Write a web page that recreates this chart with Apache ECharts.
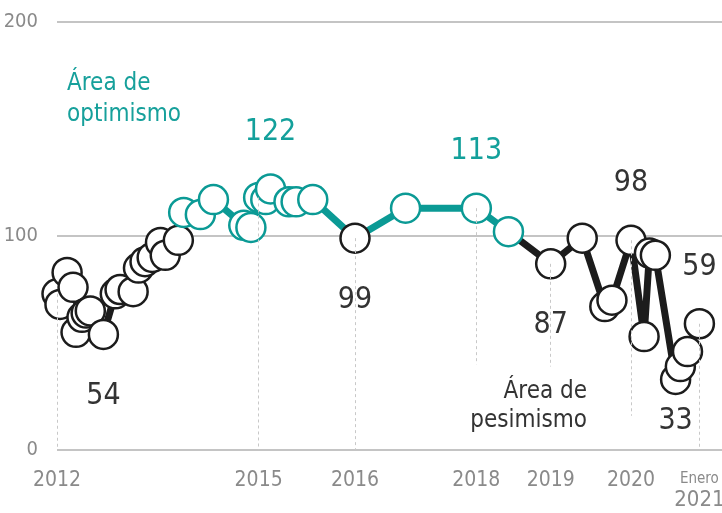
<!DOCTYPE html>
<html>
<head>
<meta charset="utf-8">
<script src="https://cdn.jsdelivr.net/npm/echarts@6/dist/echarts.min.js"></script>
<style>
  html, body { margin: 0; padding: 0; background: #fff; }
  #chart { width: 722px; height: 513px; }
</style>
</head>
<body>
<div id="chart"></div>
<script>
// meses desde enero 2012
var meses = [0, 0.5, 1.7, 2.7, 3.2, 4.2, 4.9, 5.6, 7.8, 9.8, 10.6, 12.8, 13.7, 14.8, 16.0,
  17.4, 18.2, 20.4, 21.3, 24.1, 26.3, 31.4, 32.6, 33.9, 35.1, 35.9, 39.0, 40.2, 43.0, 50.1,
  58.6, 70.5, 75.9, 83.0, 88.3, 92.1, 93.3, 96.5, 98.7, 99.6, 100.6, 104.0, 104.8, 106.0, 108.0];
var valores = [73, 68, 83, 76, 55, 62, 64, 65, 54, 73, 75, 74, 85, 88, 90,
  97, 91, 98, 111, 110, 117, 105, 104, 118, 117, 122, 116, 116, 117, 99,
  113, 113, 102, 87, 99, 67, 70, 98, 53, 92, 91, 33, 39, 46, 59];

var tickMeses = [0, 33.9, 50.1, 70.5, 83.0, 96.5, 108.0];
var tickLabels = ["2012", "2015", "2016", "2018", "2019", "2020", "Enero 2021"];
var dropFin = [0, 0, 0, 40, 39, 16, 0];

// puntos con etiqueta de valor
var etiquetados = [8, 25, 29, 31, 33, 37, 41, 44];
var etiquetaArriba = [25, 31, 37, 44];
var umbral = 100;

var teal = "#0b9a95";
var negro = "#1c1c1c";
var fuente = "'DejaVu Sans Condensed', 'Liberation Sans Narrow', sans-serif";

var myChart = echarts.init(document.getElementById("chart"));

var lineData = meses.map(function (m, i) { return [m, valores[i]]; });

var puntos = meses.map(function (m, i) {
  var v = valores[i];
  var alto = v > umbral;
  var item = {
    value: [m, v],
    itemStyle: { color: "#fff", borderColor: alto ? teal : negro, borderWidth: 2.5, opacity: 1 }
  };
  if (etiquetados.indexOf(i) >= 0) {
    var arriba = etiquetaArriba.indexOf(i) >= 0;
    item.label = {
      show: true,
      position: arriba ? "top" : "bottom",
      distance: i === 41 ? 9 : (arriba ? 24 : 29),
      formatter: String(v),
      color: alto ? "#13a09b" : "#333",
      fontFamily: fuente,
      fontSize: 30,
      backgroundColor: "#fff",
      padding: [2, 2]
    };
  }
  return item;
});

var drops = tickMeses.map(function (m, i) {
  var v = valores[meses.indexOf(m)];
  return [{ coord: [m, v] }, { coord: [m, dropFin[i]] }];
});

var option = {
  animation: false,
  grid: { left: 57, right: 0, top: 22, bottom: 63, outerBoundsMode: "none", containLabel: false },
  xAxis: {
    type: "value",
    min: 0,
    max: 111.8,
    axisLine: { show: false },
    axisTick: { show: false },
    splitLine: { show: false },
    axisLabel: {
      customValues: tickMeses,
      margin: 20,
      color: "#8a8a8a",
      fontFamily: fuente,
      fontSize: 21,
      formatter: function (v) {
        var t = tickLabels[tickMeses.indexOf(v)] || "";
        var p = t.split(" ");
        if (p.length > 1) return "{s|" + p[0] + "}\n{y|" + p[1] + "}";
        return t;
      },
      rich: {
        s: { fontSize: 15, lineHeight: 18, color: "#8a8a8a", fontFamily: fuente },
        y: { fontSize: 22, lineHeight: 24, color: "#8a8a8a", fontFamily: fuente }
      }
    }
  },
  yAxis: {
    type: "value",
    min: 0,
    max: 200,
    interval: 100,
    axisLine: { show: false },
    axisTick: { show: false },
    axisLabel: { margin: 19, color: "#8a8a8a", fontFamily: fuente, fontSize: 20 },
    splitLine: { lineStyle: { color: "#c4c4c4", width: 2 } }
  },
  graphic: [
    {
      type: "text", left: 67, top: 68, z: 10,
      style: { text: "Área de\noptimismo", fill: "#16a09b", fontFamily: fuente, fontSize: 24, lineHeight: 31 }
    },
    {
      type: "text", x: 587, y: 377, z: 10,
      style: { text: "Área de\npesimismo", fill: "#333", fontFamily: fuente, fontSize: 24, lineHeight: 29, align: "right" }
    }
  ],
  series: [
    {
      type: "line",
      data: lineData,
      showSymbol: false,
      clip: false,
      z: 2,
      silent: true,
      lineStyle: { width: 7, color: negro },
      markLine: {
        silent: true,
        symbol: "none",
        label: { show: false },
        lineStyle: { color: "#c8c8c8", type: [3, 3], width: 1 },
        data: drops
      }
    },
    {
      type: "scatter",
      data: puntos,
      symbol: "circle",
      symbolSize: 29,
      clip: false,
      z: 3,
      silent: true
    }
  ]
};

myChart.setOption(option);

// color de la línea según el umbral de 100 (teal encima, negro debajo)
var yTop = myChart.convertToPixel({ yAxisIndex: 0 }, 200);
var yBot = myChart.convertToPixel({ yAxisIndex: 0 }, 0);
var yUmb = myChart.convertToPixel({ yAxisIndex: 0 }, umbral);
var t = (yUmb - yTop) / (yBot - yTop);
myChart.setOption({
  series: [{
    lineStyle: {
      color: new echarts.graphic.LinearGradient(0, yTop, 0, yBot, [
        { offset: 0, color: teal },
        { offset: t, color: teal },
        { offset: t, color: negro },
        { offset: 1, color: negro }
      ], true)
    }
  }]
});
</script>
</body>
</html>
